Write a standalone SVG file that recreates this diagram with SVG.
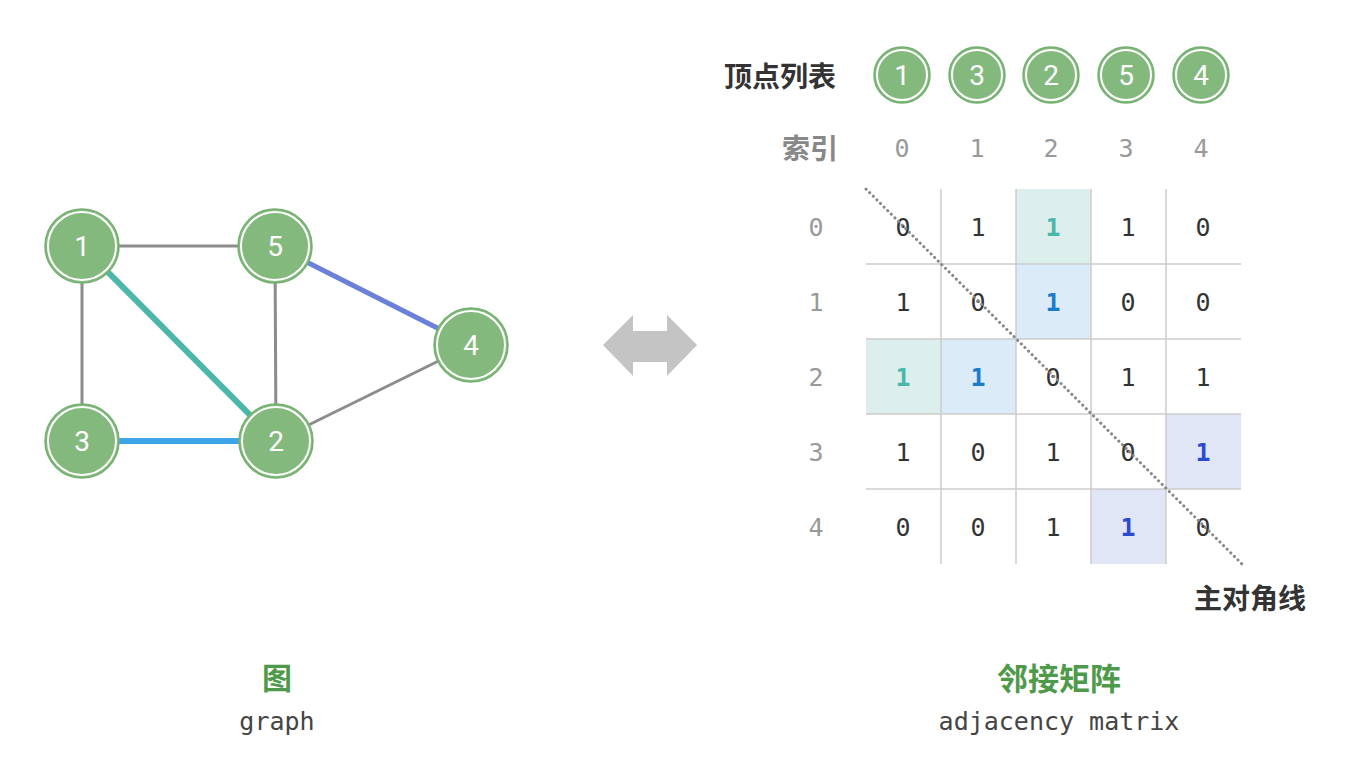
<svg xmlns="http://www.w3.org/2000/svg" width="1357" height="772" viewBox="0 0 1357 772">
<style>
.nf{fill:#84b97e;stroke:#74b06f;stroke-width:1.5}
.nr{fill:none;stroke:#ffffff;stroke-width:2}
.nt{font-family:Roboto,"Open Sans","Liberation Sans",sans-serif;font-size:28px;fill:#ffffff;text-anchor:middle;dominant-baseline:central}
.e{stroke:#8c8c8c;stroke-width:3;fill:none}
.grid{stroke:#cccccc;stroke-width:1.5}
.m{font-family:"DejaVu Sans Mono","Liberation Mono",monospace;font-size:25px;fill:#333333;text-anchor:middle;dominant-baseline:central}
.idx{font-family:"DejaVu Sans Mono","Liberation Mono",monospace;font-size:25px;fill:#999999;text-anchor:middle;dominant-baseline:central}
.tl{font-weight:bold;fill:#4bb7a8}
.bl{font-weight:bold;fill:#1a7ccc}
.il{font-weight:bold;fill:#2a4bd0}
.cj{font-family:"Noto Sans CJK SC","Noto Sans",sans-serif;font-weight:bold;dominant-baseline:central}
.mono{font-family:"DejaVu Sans Mono","Liberation Mono",monospace;font-size:25px;fill:#444444;text-anchor:middle;dominant-baseline:central}
</style>
<rect width="1357" height="772" fill="#ffffff"/>
<g id="connectors">
<line class="e" x1="82" y1="246" x2="275" y2="246"/>
<line class="e" x1="82" y1="246" x2="82" y2="441"/>
<line class="e" x1="275" y1="246" x2="276" y2="441"/>
<line class="e" x1="276" y1="441" x2="471" y2="345"/>
<line x1="82" y1="246" x2="276" y2="441" stroke="#4bb7a8" stroke-width="6"/>
<line x1="82" y1="441" x2="276" y2="441" stroke="#3ea5e8" stroke-width="6"/>
<line x1="275" y1="246" x2="471" y2="345" stroke="#6b80db" stroke-width="5"/>
</g>
<g id="node1"><circle class="nf" cx="82" cy="246" r="37"/><circle class="nr" cx="82" cy="246" r="34"/><text class="nt" x="82" y="246">1</text></g>
<g id="node5"><circle class="nf" cx="275" cy="246" r="37"/><circle class="nr" cx="275" cy="246" r="34"/><text class="nt" x="275" y="246">5</text></g>
<g id="node3"><circle class="nf" cx="82" cy="441" r="37"/><circle class="nr" cx="82" cy="441" r="34"/><text class="nt" x="82" y="441">3</text></g>
<g id="node2"><circle class="nf" cx="276" cy="441" r="37"/><circle class="nr" cx="276" cy="441" r="34"/><text class="nt" x="276" y="441">2</text></g>
<g id="node4"><circle class="nf" cx="471" cy="345" r="37"/><circle class="nr" cx="471" cy="345" r="34"/><text class="nt" x="471" y="345">4</text></g>
<g id="arrow"><polygon points="603,345 633,315 633,331 667,331 667,315 697,345 667,376 667,362 633,362 633,376" fill="#c4c4c4"/></g>
<g id="vertex-list">
<text class="cj" x="724" y="75" font-size="28" fill="#333333">顶点列表</text>
<circle class="nf" cx="902" cy="75" r="28"/><circle class="nr" cx="902" cy="75" r="25"/><text class="nt" x="902" y="75" font-size="25">1</text>
<circle class="nf" cx="977" cy="75" r="28"/><circle class="nr" cx="977" cy="75" r="25"/><text class="nt" x="977" y="75" font-size="25">3</text>
<circle class="nf" cx="1051" cy="75" r="28"/><circle class="nr" cx="1051" cy="75" r="25"/><text class="nt" x="1051" y="75" font-size="25">2</text>
<circle class="nf" cx="1126" cy="75" r="28"/><circle class="nr" cx="1126" cy="75" r="25"/><text class="nt" x="1126" y="75" font-size="25">5</text>
<circle class="nf" cx="1201" cy="75" r="28"/><circle class="nr" cx="1201" cy="75" r="25"/><text class="nt" x="1201" y="75" font-size="25">4</text>
<text class="cj" x="838" y="147" font-size="28" fill="#888888" text-anchor="end">索引</text>
<text class="idx" x="902" y="148">0</text>
<text class="idx" x="977" y="148">1</text>
<text class="idx" x="1051" y="148">2</text>
<text class="idx" x="1126" y="148">3</text>
<text class="idx" x="1201" y="148">4</text>
</g>
<g id="matrix">
<rect x="1016" y="189" width="75" height="75" fill="#dcefec"/>
<rect x="1016" y="264" width="75" height="75" fill="#dbebf8"/>
<rect x="866" y="339" width="75" height="75" fill="#dcefec"/>
<rect x="941" y="339" width="75" height="75" fill="#dbebf8"/>
<rect x="1166" y="414" width="75" height="75" fill="#e1e6f7"/>
<rect x="1091" y="489" width="75" height="75" fill="#e1e6f7"/>
<line class="grid" x1="941" y1="189" x2="941" y2="564"/>
<line class="grid" x1="1016" y1="189" x2="1016" y2="564"/>
<line class="grid" x1="1091" y1="189" x2="1091" y2="564"/>
<line class="grid" x1="1166" y1="189" x2="1166" y2="564"/>
<line class="grid" x1="866" y1="264" x2="1241" y2="264"/>
<line class="grid" x1="866" y1="339" x2="1241" y2="339"/>
<line class="grid" x1="866" y1="414" x2="1241" y2="414"/>
<line class="grid" x1="866" y1="489" x2="1241" y2="489"/>
<text class="idx" x="816" y="227">0</text>
<text class="idx" x="816" y="302">1</text>
<text class="idx" x="816" y="377">2</text>
<text class="idx" x="816" y="452">3</text>
<text class="idx" x="816" y="527">4</text>
<text class="m" x="903" y="227">0</text><text class="m" x="978" y="227">1</text><text class="m tl" x="1053" y="227">1</text><text class="m" x="1128" y="227">1</text><text class="m" x="1203" y="227">0</text>
<text class="m" x="903" y="302">1</text><text class="m" x="978" y="302">0</text><text class="m bl" x="1053" y="302">1</text><text class="m" x="1128" y="302">0</text><text class="m" x="1203" y="302">0</text>
<text class="m tl" x="903" y="377">1</text><text class="m bl" x="978" y="377">1</text><text class="m" x="1053" y="377">0</text><text class="m" x="1128" y="377">1</text><text class="m" x="1203" y="377">1</text>
<text class="m" x="903" y="452">1</text><text class="m" x="978" y="452">0</text><text class="m" x="1053" y="452">1</text><text class="m" x="1128" y="452">0</text><text class="m il" x="1203" y="452">1</text>
<text class="m" x="903" y="527">0</text><text class="m" x="978" y="527">0</text><text class="m" x="1053" y="527">1</text><text class="m il" x="1128" y="527">1</text><text class="m" x="1203" y="527">0</text>
<line x1="866" y1="189" x2="1242" y2="564" stroke="#888888" stroke-width="3" stroke-linecap="round" stroke-dasharray="0.1 5"/>
<text class="cj" x="1306" y="597" font-size="28" fill="#333333" text-anchor="end">主对角线</text>
</g>
<g id="captions">
<text class="cj" x="277" y="676" font-size="30" fill="#4e9a4a" text-anchor="middle">图</text>
<text class="mono" x="277" y="721">graph</text>
<text class="cj" x="1059" y="676" font-size="31" fill="#4e9a4a" text-anchor="middle">邻接矩阵</text>
<text class="mono" x="1059" y="721">adjacency matrix</text>
</g>
</svg>
